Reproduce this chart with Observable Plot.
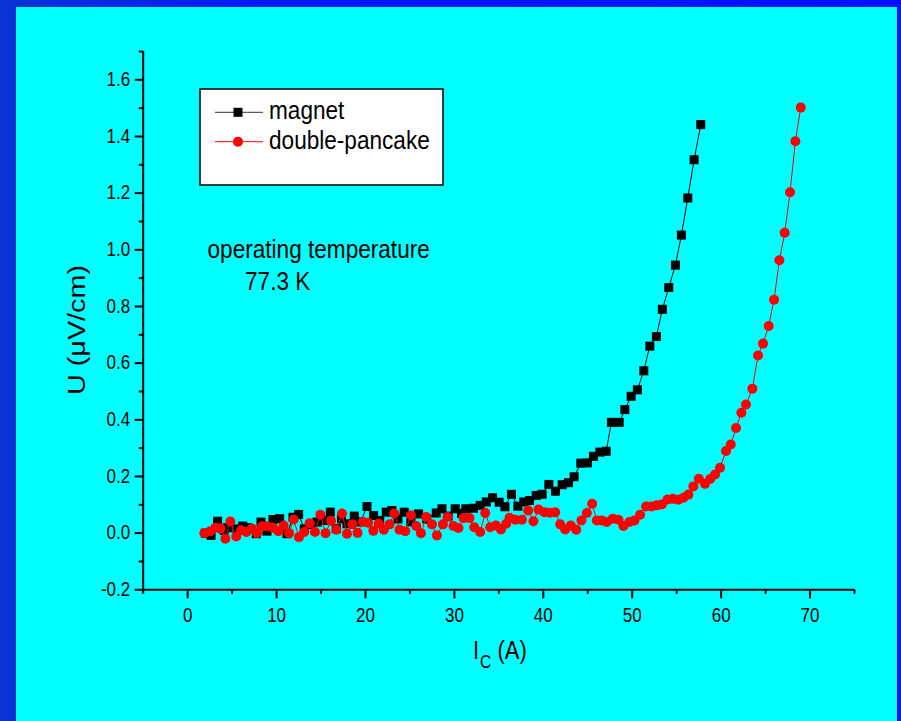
<!DOCTYPE html>
<html>
<head>
<meta charset="utf-8">
<script src="https://cdn.jsdelivr.net/npm/d3@7"></script>
<script src="https://cdn.jsdelivr.net/npm/@observablehq/plot@0.6"></script>
<style>
  html, body { margin: 0; padding: 0; }
  body { width: 901px; height: 721px; overflow: hidden;
         background: linear-gradient(90deg, #0a33d4 0%, #0018f6 30%, #0010ff 100%); }
  #wrap { position: relative; width: 901px; height: 721px; }
  #panel { position: absolute; left: 16px; top: 7px; width: 881px; height: 714px; background: #00ffff; }
  #chart, #overlay { position: absolute; left: 0; top: 0; }
  #overlay { pointer-events: none; }
</style>
</head>
<body>
<div id="wrap">
  <div id="panel"></div>
  <div id="chart"></div>
  <svg id="overlay" width="901" height="721"></svg>
</div>
<script>
// ---- data ----
const magnetI = [2.0, 2.63, 3.37, 4.10, 4.50, 5.55, 6.20, 6.74, 7.72, 8.25, 8.92, 9.60, 10.35, 11.17, 11.85, 12.48, 13.12, 13.80, 14.55, 15.30,
  16.04, 16.72, 17.30, 17.92, 18.74, 19.45, 20.17, 20.91, 21.60, 22.34, 22.97, 23.65, 24.36, 25.10, 25.97, 26.90, 27.96, 28.60, 29.30, 30.09,
  30.80, 31.29, 32.15, 32.90, 33.60, 34.29, 35.04, 35.68, 36.42, 37.14, 37.80, 38.45, 39.20, 39.87, 40.62, 41.37, 42.12, 42.83, 43.47, 44.22,
  44.96, 45.64, 46.36, 47.07, 47.66, 48.53, 49.17, 49.88, 50.58, 51.30, 51.98, 52.72, 53.39, 54.11, 54.86, 55.53, 56.25, 56.96, 57.71];
const magnetU = [0.000, -0.008, 0.042, 0.010, 0.019, 0.015, 0.025, 0.019, -0.002, 0.039, 0.007, 0.048, 0.051, -0.002, 0.056, 0.066, 0.015, 0.030, 0.039, 0.045,
  0.074, 0.016, 0.050, 0.033, 0.060, 0.040, 0.094, 0.062, 0.045, 0.074, 0.080, 0.050, 0.074, 0.040, 0.068, 0.050, 0.071, 0.086, 0.060, 0.086,
  0.070, 0.086, 0.088, 0.098, 0.110, 0.125, 0.109, 0.093, 0.137, 0.095, 0.110, 0.115, 0.133, 0.137, 0.172, 0.148, 0.171, 0.178, 0.199, 0.247,
  0.248, 0.271, 0.286, 0.289, 0.391, 0.391, 0.436, 0.483, 0.506, 0.573, 0.660, 0.694, 0.790, 0.867, 0.946, 1.052, 1.183, 1.318, 1.442];

const pancakeI = [1.88, 2.55, 3.11, 3.68, 4.24, 4.80, 5.47, 6.00, 6.60, 7.24, 7.80, 8.36, 8.93, 9.60, 10.20, 10.79, 11.40, 11.92, 12.52, 13.12,
  13.71, 14.32, 14.92, 15.51, 16.12, 16.72, 17.36, 17.92, 18.53, 19.11, 19.72, 20.29, 20.88, 21.49, 22.07, 22.71, 23.24, 23.83, 24.47, 25.11,
  25.71, 26.24, 26.83, 27.47, 28.03, 28.71, 29.23, 29.90, 30.46, 31.03, 31.70, 32.23, 32.90, 33.47, 34.03, 34.67, 35.23, 35.83, 36.20, 36.84,
  37.59, 38.30, 38.89, 39.46, 40.13, 40.77, 41.34, 41.90, 42.46, 43.10, 43.70, 44.29, 44.90, 45.49, 46.02, 46.58, 47.14, 47.82, 48.45, 49.01,
  49.68, 50.25, 50.89, 51.56, 52.20, 52.76, 53.33, 53.96, 54.56, 55.19, 55.76, 56.32, 56.88, 57.49, 58.19, 58.76, 59.32, 59.88, 60.55, 61.08,
  61.68, 62.28, 62.80, 63.51, 64.15, 64.71, 65.35, 65.95, 66.55, 67.15, 67.75, 68.35, 68.95];
const pancakeU = [0.000, 0.007, 0.019, 0.016, -0.020, 0.041, -0.012, 0.010, 0.004, 0.016, 0.000, 0.024, 0.024, 0.019, 0.007, 0.027, 0.000, 0.048, -0.014, 0.004,
  0.035, 0.004, 0.065, 0.000, 0.044, 0.012, 0.069, -0.002, 0.031, 0.001, 0.040, 0.037, 0.008, 0.033, 0.012, 0.031, 0.069, 0.012, 0.007, 0.063,
  0.025, 0.000, 0.057, 0.031, -0.008, 0.031, 0.057, 0.025, 0.018, 0.053, 0.053, 0.021, 0.004, 0.071, 0.021, 0.027, 0.013, 0.033, 0.054, 0.047,
  0.047, 0.080, 0.042, 0.083, 0.074, 0.072, 0.074, 0.031, 0.013, 0.027, 0.012, 0.045, 0.071, 0.104, 0.045, 0.045, 0.039, 0.051, 0.047, 0.025,
  0.039, 0.045, 0.065, 0.094, 0.094, 0.098, 0.101, 0.119, 0.121, 0.118, 0.125, 0.136, 0.165, 0.192, 0.174, 0.191, 0.207, 0.231, 0.290, 0.313,
  0.371, 0.425, 0.454, 0.510, 0.627, 0.669, 0.731, 0.824, 0.963, 1.060, 1.203, 1.383, 1.502];

const seriesNames = ["magnet", "double-pancake"];
const xTicks = [0, 10, 20, 30, 40, 50, 60, 70];
const xMinorTicks = [-5, 5, 15, 25, 35, 45, 55, 65, 75];
const yTicks = [-0.2, 0.0, 0.2, 0.4, 0.6, 0.8, 1.0, 1.2, 1.4, 1.6];
const yMinorTicks = [-0.1, 0.1, 0.3, 0.5, 0.7, 0.9, 1.1, 1.3, 1.5, 1.7];
const xLabelMain = "I", xLabelSub = "C", xLabelRest = " (A)";
const yLabel = "U (\u03BCV/cm)";
const noteLines = ["operating temperature", "77.3 K"];

const magnet = magnetI.map((x, i) => ({I: x, U: magnetU[i]}));
const pancake = pancakeI.map((x, i) => ({I: x, U: pancakeU[i]}));

const FONT = "'Liberation Sans', Arial, sans-serif";

const chart = Plot.plot({
  width: 901,
  height: 721,
  marginLeft: 142.7,
  marginRight: 47,
  marginTop: 51,
  marginBottom: 131.7,
  style: {background: "transparent", fontFamily: FONT, color: "black", overflow: "visible"},
  x: {domain: [-5, 75]},
  y: {domain: [-0.2, 1.7]},
  marks: [
    Plot.axisY({ticks: yTicks, tickSize: 8, tickPadding: 5, tickFormat: d => d.toFixed(1), fontSize: 17, strokeWidth: 2, label: null}),
    Plot.axisY({ticks: yMinorTicks, tickSize: 4, tickFormat: () => "", strokeWidth: 2, label: null}),
    Plot.axisX({ticks: xTicks, tickSize: 9, tickPadding: 9, tickFormat: d => String(d), fontSize: 17, strokeWidth: 2, label: null}),
    Plot.axisX({ticks: xMinorTicks, tickSize: 4.5, tickFormat: () => "", strokeWidth: 2, label: null}),
    Plot.ruleX([-5], {stroke: "black", strokeWidth: 2}),
    Plot.ruleY([-0.2], {stroke: "black", strokeWidth: 2}),
    Plot.line(magnet, {x: "I", y: "U", stroke: "black", strokeWidth: 1}),
    Plot.dot(magnet, {x: "I", y: "U", symbol: "square", r: 5.1, fill: "black", stroke: "none"}),
    Plot.line(pancake, {x: "I", y: "U", stroke: "#ff0000", strokeWidth: 1}),
    Plot.dot(pancake, {x: "I", y: "U", symbol: "circle", r: 5, fill: "#ff0000", stroke: "none"})
  ]
});
document.getElementById("chart").appendChild(chart);

// slight vertical stretch of tick labels, as in the original figure
chart.querySelectorAll("text").forEach(t => {
  const tr = t.getAttribute("transform");
  if (tr) t.setAttribute("transform", tr + " scale(1,1.15)");
});

// ---- overlay texts and legend ----
const ov = d3.select("#overlay").style("font-family", FONT);

// y label
ov.append("text")
  .attr("transform", "translate(85,330) rotate(-90) scale(1.2,1)")
  .attr("text-anchor", "middle")
  .attr("font-size", 24)
  .text(yLabel);

// x label
const xl = ov.append("text")
  .attr("transform", "translate(473,659) scale(1,1.2)")
  .attr("font-size", 22);
xl.append("tspan").text(xLabelMain);
xl.append("tspan").attr("font-size", 15.5).attr("dy", 7.5).attr("dx", 1).text(xLabelSub);
xl.append("tspan").attr("dy", -7.5).text(xLabelRest);

// annotation
ov.append("text").attr("transform", "translate(207.5,258.3) scale(1,1.12)")
  .attr("font-size", 22.6).text(noteLines[0]);
ov.append("text").attr("transform", "translate(245,290) scale(1,1.12)")
  .attr("font-size", 22.6).text(noteLines[1]);

// legend
const lg = ov.append("g").attr("transform", "translate(200,89)");
lg.append("rect").attr("x", 0).attr("y", 0).attr("width", 243).attr("height", 96)
  .attr("fill", "white").attr("stroke", "black").attr("stroke-width", 1.5);
const legendStyles = [
  {color: "black", lineColor: "#333", shape: "square"},
  {color: "#ff0000", lineColor: "#ff0000", shape: "circle"}
];
seriesNames.forEach((name, i) => {
  const cy = i === 0 ? 23.3 : 52.7;
  const st = legendStyles[i];
  lg.append("line").attr("x1", 15).attr("x2", 63).attr("y1", cy).attr("y2", cy)
    .attr("stroke", st.lineColor).attr("stroke-width", 1);
  if (st.shape === "square") {
    lg.append("rect").attr("x", 38 - 4.5).attr("y", cy - 4.5).attr("width", 9).attr("height", 9).attr("fill", st.color);
  } else {
    lg.append("circle").attr("cx", 38).attr("cy", cy).attr("r", 5).attr("fill", st.color);
  }
  lg.append("text").attr("transform", `translate(69,${cy + 7}) scale(1,1.15)`)
    .attr("font-size", 22.6).attr("fill", "black").text(name);
});
</script>
</body>
</html>
